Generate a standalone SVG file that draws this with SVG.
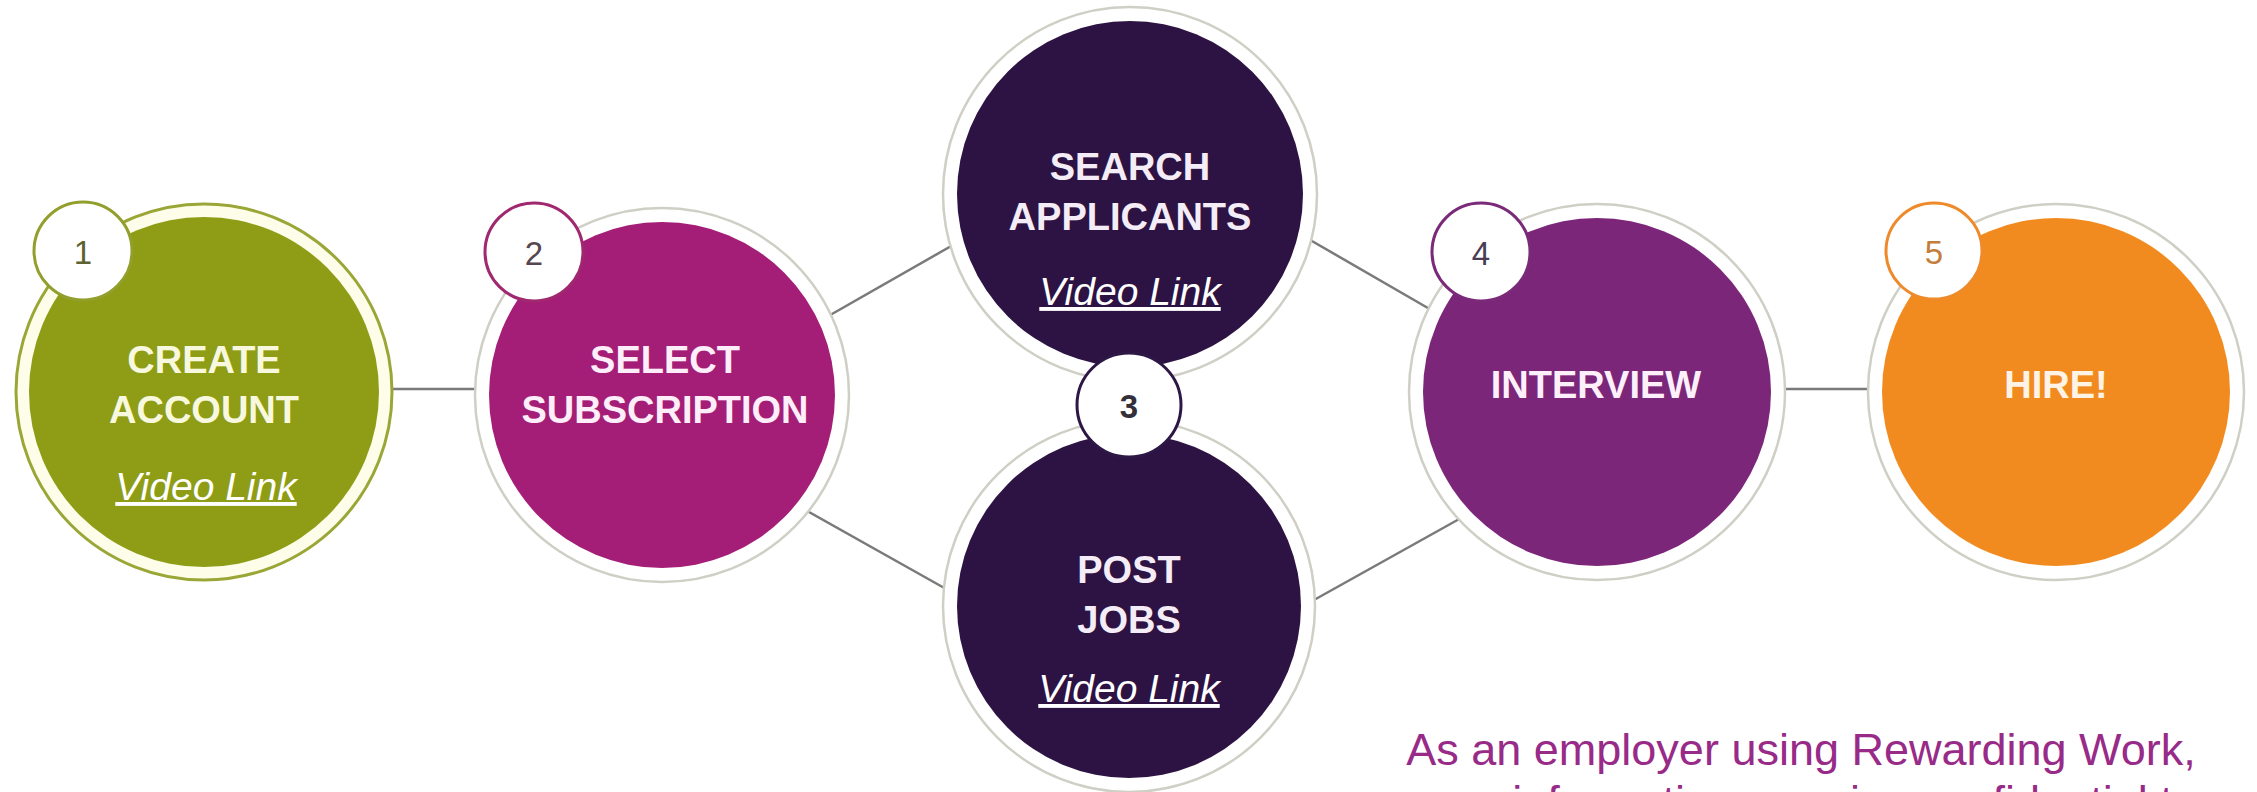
<svg xmlns="http://www.w3.org/2000/svg" width="2257" height="792" viewBox="0 0 2257 792">
<style>
.ring{fill:#ffffff;stroke:#cfcfc6;stroke-width:2.5}
.lbl{font-family:"Liberation Sans",Arial,sans-serif;font-weight:bold;font-size:38px;text-anchor:middle}
.vid{font-family:"Liberation Sans",Arial,sans-serif;font-style:italic;font-size:39px;text-anchor:middle;fill:#ffffff;text-decoration:underline}
.num{font-family:"Liberation Sans",Arial,sans-serif;font-size:33px;text-anchor:middle}
.badge{fill:#ffffff;stroke-width:3}
.conn{stroke:#7a7a7a;stroke-width:2.5;fill:none}
.note{font-family:"Liberation Sans",Arial,sans-serif;font-size:45px;fill:#982a88;text-anchor:middle}
</style>
<rect width="2257" height="792" fill="#ffffff"/>
<g id="connectors">
<line class="conn" x1="380" y1="389" x2="490" y2="389"/>
<line class="conn" x1="825" y1="318" x2="960" y2="241"/>
<line class="conn" x1="800" y1="507" x2="955" y2="594"/>
<line class="conn" x1="1305" y1="237" x2="1440" y2="315"/>
<line class="conn" x1="1305" y1="605" x2="1470" y2="513"/>
<line class="conn" x1="1770" y1="389" x2="1880" y2="389"/>
</g>
<g id="step1">
<circle cx="204" cy="392" r="188" fill="#fdfdea" stroke="#9aa636" stroke-width="3"/>
<circle cx="204" cy="392" r="175" fill="#8e9d15"/>
<text class="lbl" x="204" y="373" fill="#f8f8df">CREATE</text>
<text class="lbl" x="204" y="423" fill="#f8f8df">ACCOUNT</text>
<text class="vid" x="206" y="500">Video Link</text>
<circle class="badge" cx="83" cy="251" r="49" stroke="#939f2c"/>
<text class="num" x="83" y="264" fill="#5e6232">1</text>
</g>
<g id="step2">
<circle class="ring" cx="662" cy="395" r="187"/>
<circle cx="662" cy="395" r="173" fill="#a41e77"/>
<text class="lbl" x="665" y="373" fill="#fdeefa">SELECT</text>
<text class="lbl" x="665" y="423" fill="#fdeefa">SUBSCRIPTION</text>
<circle class="badge" cx="534" cy="252" r="49" stroke="#a0286f"/>
<text class="num" x="534" y="265" fill="#55464f">2</text>
</g>
<g id="step3-search">
<circle class="ring" cx="1130" cy="194" r="187"/>
<circle cx="1130" cy="194" r="173" fill="#2d1343"/>
<text class="lbl" x="1130" y="180" fill="#f4ecf6">SEARCH</text>
<text class="lbl" x="1130" y="230" fill="#f4ecf6">APPLICANTS</text>
<text class="vid" x="1130" y="305">Video Link</text>
</g>
<g id="step3-post">
<circle class="ring" cx="1129" cy="606" r="186"/>
<circle cx="1129" cy="606" r="172" fill="#2d1343"/>
<text class="lbl" x="1129" y="583" fill="#f4ecf6">POST</text>
<text class="lbl" x="1129" y="633" fill="#f4ecf6">JOBS</text>
<text class="vid" x="1129" y="702">Video Link</text>
</g>
<g id="badge3">
<circle class="badge" cx="1129" cy="405" r="52" stroke="#2d1845"/>
<text class="num" x="1129" y="418" fill="#33303a" font-weight="bold">3</text>
</g>
<g id="step4">
<circle class="ring" cx="1597" cy="392" r="188"/>
<circle cx="1597" cy="392" r="174" fill="#7c267a"/>
<text class="lbl" x="1596" y="398" fill="#fdf0fb">INTERVIEW</text>
<circle class="badge" cx="1481" cy="252" r="49" stroke="#7a2a78"/>
<text class="num" x="1481" y="265" fill="#4b3c55">4</text>
</g>
<g id="step5">
<circle class="ring" cx="2056" cy="392" r="188"/>
<circle cx="2056" cy="392" r="174" fill="#f28b1f"/>
<text class="lbl" x="2056" y="398" fill="#fff3e6">HIRE!</text>
<circle class="badge" cx="1934" cy="251" r="48" stroke="#ee8a2a"/>
<text class="num" x="1934" y="264" fill="#c47e3c">5</text>
</g>
<g id="note">
<text class="note" x="1801" y="765">As an employer using Rewarding Work,</text>
<text class="note" x="1805" y="817">your information remains confidential to</text>
</g>
</svg>
